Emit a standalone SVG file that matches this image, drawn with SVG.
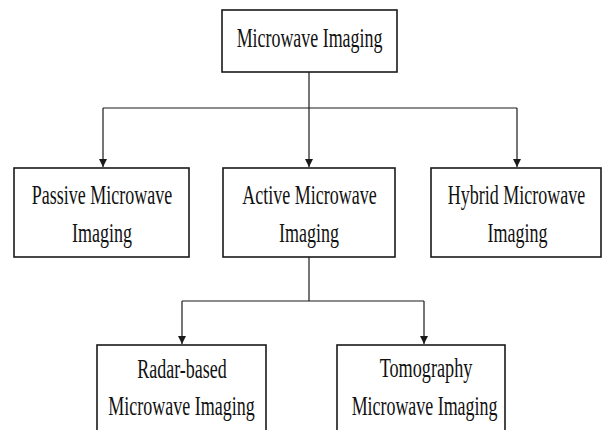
<svg xmlns="http://www.w3.org/2000/svg" width="602" height="430" viewBox="0 0 602 430">
  <style>
    .box { fill: #ffffff; stroke: #1a1a1a; stroke-width: 1.6; }
    .lbl { font-family: "Liberation Serif", "Times New Roman", serif; font-size: 28px; fill: #111111; text-anchor: middle; }
    .wire { fill: none; stroke: #1a1a1a; stroke-width: 1.2; }
  </style>
  <defs>
    <marker id="arrow" viewBox="0 0 8 10" refX="8" refY="5" markerWidth="8" markerHeight="10" markerUnits="userSpaceOnUse" orient="auto">
      <path d="M0,1 L8,5 L0,9 Z" fill="#1a1a1a"/>
    </marker>
  </defs>
  <rect width="602" height="430" fill="#ffffff"/>

  <g id="connectors">
    <path class="wire" d="M309,72 V108"/>
    <path class="wire" d="M103,108 H517"/>
    <path class="wire" d="M103,108 V167" marker-end="url(#arrow)"/>
    <path class="wire" d="M309,108 V167" marker-end="url(#arrow)"/>
    <path class="wire" d="M517,108 V167" marker-end="url(#arrow)"/>
    <path class="wire" d="M309,257 V301"/>
    <path class="wire" d="M182,301 H424"/>
    <path class="wire" d="M182,301 V344" marker-end="url(#arrow)"/>
    <path class="wire" d="M424,301 V344" marker-end="url(#arrow)"/>
  </g>

  <!-- labels use a narrowed serif: each text is squeezed horizontally -->
  <g id="microwave-imaging">
    <rect class="box" x="222" y="10" width="175" height="62"/>
    <text class="lbl" transform="translate(309.5,47) scale(0.64,1)">Microwave Imaging</text>
  </g>

  <g id="passive">
    <rect class="box" x="14" y="168" width="175" height="89"/>
    <text class="lbl" transform="translate(102,204) scale(0.643,1)">Passive Microwave</text>
    <text class="lbl" transform="translate(102,242) scale(0.643,1)">Imaging</text>
  </g>

  <g id="active">
    <rect class="box" x="223" y="168" width="172" height="89"/>
    <text class="lbl" transform="translate(309.5,204) scale(0.643,1)">Active Microwave</text>
    <text class="lbl" transform="translate(309,242) scale(0.643,1)">Imaging</text>
  </g>

  <g id="hybrid">
    <rect class="box" x="431" y="168" width="170" height="89"/>
    <text class="lbl" transform="translate(516.5,204) scale(0.643,1)">Hybrid Microwave</text>
    <text class="lbl" transform="translate(517.5,242) scale(0.643,1)">Imaging</text>
  </g>

  <g id="radar-based">
    <rect class="box" x="97" y="345" width="169" height="100"/>
    <text class="lbl" transform="translate(182,378) scale(0.643,1)">Radar-based</text>
    <text class="lbl" transform="translate(181.5,415) scale(0.643,1)">Microwave Imaging</text>
  </g>

  <g id="tomography">
    <rect class="box" x="337" y="345" width="168" height="100"/>
    <text class="lbl" transform="translate(426,377) scale(0.65,1)">Tomography</text>
    <text class="lbl" transform="translate(424.5,415) scale(0.64,1)">Microwave Imaging</text>
  </g>
</svg>
